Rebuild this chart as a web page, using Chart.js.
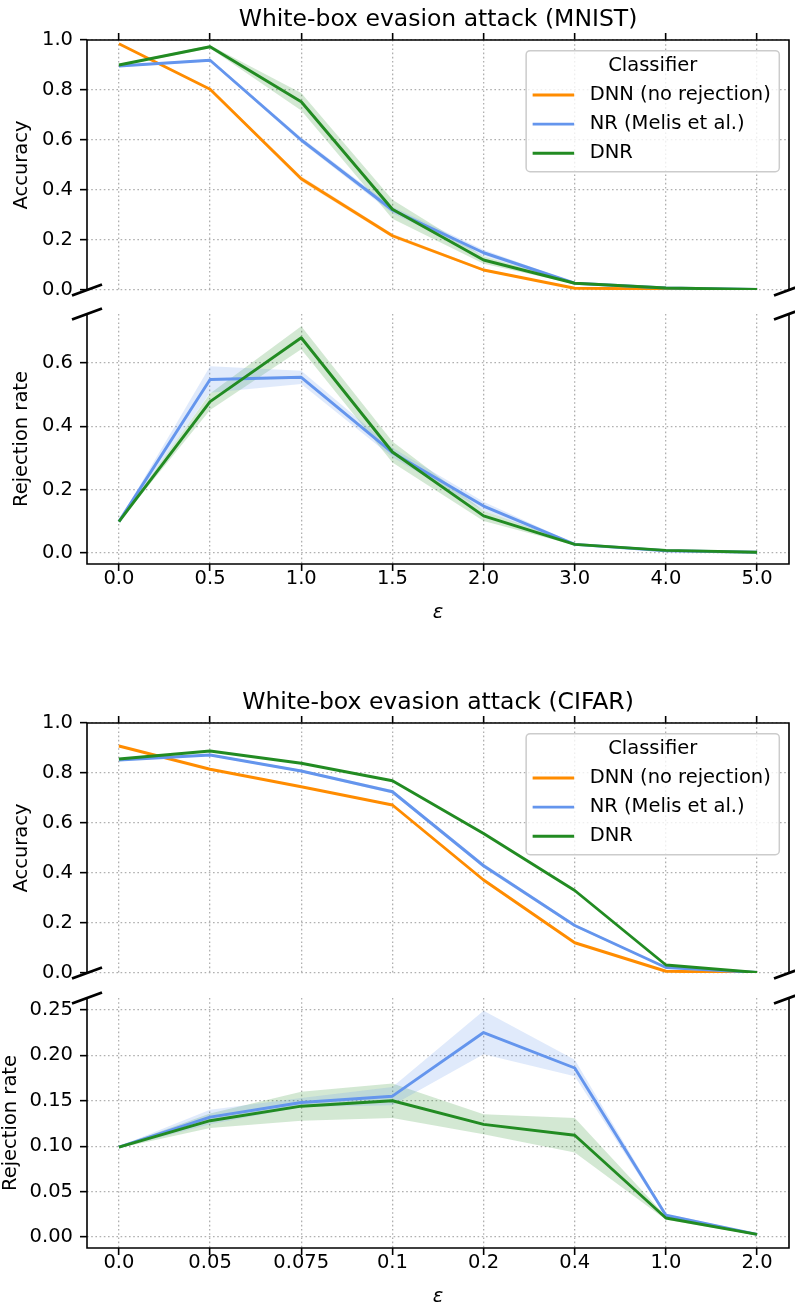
<!DOCTYPE html>
<html>
<head>
<meta charset="utf-8">
<script src="https://cdn.jsdelivr.net/npm/chart.js@4.4.0/dist/chart.umd.min.js"></script>
<style>
  html, body { margin: 0; padding: 0; background: #fff; overflow: hidden; }
  #page { position: relative; width: 795px; height: 1306px; }
  canvas { position: absolute; left: 0; }
</style>
</head>
<body>
<div id="page">
  <canvas id="mnistAcc" style="top:0px" width="795" height="300"></canvas>
  <canvas id="mnistRej" style="top:300px" width="795" height="322"></canvas>
  <canvas id="cifarAcc" style="top:683px" width="795" height="300"></canvas>
  <canvas id="cifarRej" style="top:984px" width="795" height="322"></canvas>
</div>
<script>
// ========== DATA ==========

const classifierNames = ['DNN (no rejection)', 'NR (Melis et al.)', 'DNR'];
const classifierColors = ['#ff8c00', '#6495ed', '#228b22'];

const epsMnist = ['0.0', '0.5', '1.0', '1.5', '2.0', '3.0', '4.0', '5.0'];
const epsCifar = ['0.0', '0.05', '0.075', '0.1', '0.2', '0.4', '1.0', '2.0'];

// MNIST accuracy (mean, std)
const accDnnMnist = [0.985, 0.803, 0.445, 0.217, 0.080, 0.007, 0.004, 0.001];
const accDnnMnistStd = [0.003, 0.004, 0.010, 0.008, 0.005, 0.002, 0.001, 0.000];
const accNrMnist = [0.896, 0.919, 0.600, 0.320, 0.149, 0.027, 0.008, 0.002];
const accNrMnistStd = [0.004, 0.005, 0.010, 0.013, 0.012, 0.003, 0.001, 0.000];
const accDnrMnist = [0.900, 0.973, 0.753, 0.323, 0.120, 0.027, 0.008, 0.002];
const accDnrMnistStd = [0.004, 0.006, 0.035, 0.038, 0.015, 0.003, 0.001, 0.000];

// MNIST rejection rate
const rejNrMnist = [0.099, 0.548, 0.555, 0.317, 0.148, 0.027, 0.007, 0.002];
const rejNrMnistStd = [0.002, 0.042, 0.021, 0.015, 0.014, 0.003, 0.001, 0.000];
const rejDnrMnist = [0.099, 0.478, 0.680, 0.319, 0.117, 0.027, 0.008, 0.002];
const rejDnrMnistStd = [0.002, 0.026, 0.036, 0.033, 0.016, 0.003, 0.001, 0.000];

// CIFAR accuracy
const accDnnCifar = [0.908, 0.815, 0.745, 0.672, 0.372, 0.121, 0.007, 0.001];
const accDnnCifarStd = [0.003, 0.003, 0.003, 0.004, 0.006, 0.004, 0.001, 0.000];
const accNrCifar = [0.852, 0.872, 0.808, 0.725, 0.429, 0.190, 0.022, 0.002];
const accNrCifarStd = [0.003, 0.004, 0.005, 0.007, 0.009, 0.006, 0.002, 0.000];
const accDnrCifar = [0.856, 0.888, 0.839, 0.769, 0.558, 0.330, 0.032, 0.002];
const accDnrCifarStd = [0.002, 0.003, 0.003, 0.003, 0.004, 0.004, 0.002, 0.000];

// CIFAR rejection rate
const rejNrCifar = [0.099, 0.132, 0.148, 0.155, 0.225, 0.186, 0.024, 0.003];
const rejNrCifarStd = [0.001, 0.008, 0.005, 0.010, 0.024, 0.009, 0.002, 0.001];
const rejDnrCifar = [0.099, 0.128, 0.144, 0.150, 0.124, 0.112, 0.021, 0.003];
const rejDnrCifarStd = [0.001, 0.008, 0.016, 0.019, 0.011, 0.019, 0.002, 0.001];

const accTicks = [0, 0.2, 0.4, 0.6, 0.8, 1.0];
const rejTicksMnist = [0, 0.2, 0.4, 0.6];
const rejTicksCifar = [0, 0.05, 0.10, 0.15, 0.20, 0.25];

// ========== STYLE ==========

const FS = 19.5;
Chart.defaults.font.family = "'DejaVu Sans', sans-serif";
Chart.defaults.font.size = FS;
Chart.defaults.color = '#000';

function withAlpha(hex, a) {
  const n = parseInt(hex.slice(1), 16);
  return `rgba(${(n >> 16) & 255}, ${(n >> 8) & 255}, ${n & 255}, ${a})`;
}

const pts = arr => arr.map((v, i) => ({ x: i, y: v }));

function buildDatasets(series) {
  const sets = [];
  series.forEach((s, k) => {
    const lower = s.mean.map((m, i) => m - s.std[i]);
    const upper = s.mean.map((m, i) => m + s.std[i]);
    const lowIdx = sets.length;
    sets.push({
      label: s.name + ' lower', data: pts(lower), borderColor: 'rgba(0,0,0,0)',
      borderWidth: 0, pointRadius: 0, fill: false, order: 20 + k, band: true
    });
    sets.push({
      label: s.name + ' upper', data: pts(upper), borderColor: 'rgba(0,0,0,0)',
      borderWidth: 0, pointRadius: 0, fill: lowIdx, backgroundColor: withAlpha(s.color, 0.2),
      order: 20 + k, band: true
    });
    sets.push({
      label: s.name, data: pts(s.mean), borderColor: s.color, borderWidth: 2.9,
      borderJoinStyle: 'round', pointRadius: 0, fill: false, tension: 0,
      order: 10 - k
    });
  });
  return sets;
}

// spines, broken-axis marks and the framed legend
const axesDecor = {
  id: 'axesDecor',
  afterDraw(chart, args, opts) {
    const { ctx, chartArea: a } = chart;
    ctx.save();
    ctx.strokeStyle = '#000';
    ctx.lineWidth = 1.6;
    ctx.beginPath();
    ctx.moveTo(a.left, a.top); ctx.lineTo(a.left, a.bottom);
    ctx.moveTo(a.right, a.top); ctx.lineTo(a.right, a.bottom);
    if (opts.upper) { ctx.moveTo(a.left - 0.8, a.top); ctx.lineTo(a.right + 0.8, a.top); }
    else { ctx.moveTo(a.left - 0.8, a.bottom); ctx.lineTo(a.right + 0.8, a.bottom); }
    ctx.stroke();

    // break marks
    const yb = opts.upper ? a.bottom : a.top;
    ctx.lineWidth = 2.9;
    ctx.beginPath();
    [a.left, a.right].forEach(x => {
      ctx.moveTo(x - 15, yb + 5.5);
      ctx.lineTo(x + 15, yb - 5.5);
    });
    ctx.stroke();

    if (opts.legend) {
      const mains = chart.data.datasets.filter(d => !d.band);
      ctx.font = `${FS}px 'DejaVu Sans'`;
      const maxW = Math.max(...mains.map(d => ctx.measureText(d.label).width));
      const w = 63.5 + maxW + 8.5, h = 121;
      const fx = a.right - 9.7 - w, fy = a.top + 10.7;
      ctx.beginPath();
      ctx.roundRect(fx, fy, w, h, 4);
      ctx.fillStyle = 'rgba(255,255,255,0.8)';
      ctx.fill();
      ctx.strokeStyle = '#cccccc';
      ctx.lineWidth = 1.5;
      ctx.stroke();

      ctx.fillStyle = '#000';
      ctx.textBaseline = 'middle';
      ctx.textAlign = 'center';
      ctx.fillText(opts.legend, fx + w / 2, fy + 15.3);
      ctx.textAlign = 'left';
      mains.forEach((d, i) => {
        const y = fy + 44.3 + i * 29.1;
        ctx.strokeStyle = d.borderColor;
        ctx.lineWidth = 2.9;
        ctx.beginPath();
        ctx.moveTo(fx + 6.5, y); ctx.lineTo(fx + 48, y);
        ctx.stroke();
        ctx.fillText(d.label, fx + 63.5, y);
      });
    }
    ctx.restore();
  }
};

const gridStyle = {
  color: '#b0b0b0', lineWidth: 1.3, drawTicks: true, tickLength: 7,
  tickColor: '#000', tickWidth: 1.6, tickBorderDash: []
};
const borderStyle = { display: false, dash: [1.6, 2.6] };

function makePanel(id, p) {
  const upper = p.upper;
  const xScale = {
    type: 'linear', min: -0.35, max: p.labels.length - 1 + 0.35,
    position: upper ? 'top' : 'bottom',
    grid: gridStyle, border: borderStyle,
    afterBuildTicks: s => { s.ticks = p.labels.map((_, i) => ({ value: i })); },
    ticks: upper ? { display: false } : {
      padding: -3.5, font: { size: FS, lineHeight: 1.2 },
      callback: v => p.labels[v]
    },
    // the upper panel carries the figure title centred over the axes
    title: upper ? {
      display: true, text: p.title, color: '#000',
      font: { size: 23.5, weight: 'normal', lineHeight: 1 },
      padding: { top: 8.2, bottom: 0 }
    } : {
      display: true, text: 'ε', font: { size: FS, style: 'italic', lineHeight: 1.2 },
      padding: { top: 0, bottom: -5 }
    },
    afterFit: s => { s.height = upper ? 40 : 56; s.paddingLeft = 0; s.paddingRight = 0; }
  };
  const yScale = {
    type: 'linear', min: p.yMin, max: p.yMax,
    grid: gridStyle, border: borderStyle,
    afterBuildTicks: s => { s.ticks = p.yTicks.map(v => ({ value: v })); },
    ticks: { padding: 7, callback: v => v.toFixed(p.yDigits) },
    title: { display: true, text: p.yTitle, font: { size: FS, lineHeight: 1.2 }, padding: { top: p.yTitlePad, bottom: 0 } },
    afterFit: s => { s.width = 87; s.paddingTop = 0; s.paddingBottom = 0; }
  };
  return new Chart(document.getElementById(id), {
    type: 'line',
    data: { datasets: buildDatasets(p.series) },
    options: {
      responsive: false,
      animation: false,
      devicePixelRatio: 1,
      events: [],
      layout: { padding: upper ? { left: 0, right: 6, top: 0, bottom: 10 } : { left: 0, right: 6, top: 14, bottom: 2 } },
      scales: { x: xScale, y: yScale },
      plugins: {
        legend: { display: false },
        tooltip: { enabled: false },
        title: { display: false },
        filler: { drawTime: 'beforeDatasetsDraw' },
        axesDecor: { upper: upper, legend: p.legend || null }
      }
    },
    plugins: [axesDecor]
  });
}

const ser = (k, mean, std) => ({ name: classifierNames[k], color: classifierColors[k], mean, std });

makePanel('mnistAcc', {
  upper: true, title: 'White-box evasion attack (MNIST)', legend: 'Classifier',
  labels: epsMnist, yMin: 0, yMax: 1, yTicks: accTicks, yDigits: 1,
  yTitle: 'Accuracy', yTitlePad: 10.5,
  series: [ser(0, accDnnMnist, accDnnMnistStd), ser(1, accNrMnist, accNrMnistStd), ser(2, accDnrMnist, accDnrMnistStd)]
});
makePanel('mnistRej', {
  upper: false, labels: epsMnist, yMin: -0.035, yMax: 0.755, yTicks: rejTicksMnist, yDigits: 1,
  yTitle: 'Rejection rate', yTitlePad: 10.5,
  series: [ser(1, rejNrMnist, rejNrMnistStd), ser(2, rejDnrMnist, rejDnrMnistStd)]
});
makePanel('cifarAcc', {
  upper: true, title: 'White-box evasion attack (CIFAR)', legend: 'Classifier',
  labels: epsCifar, yMin: 0, yMax: 1, yTicks: accTicks, yDigits: 1,
  yTitle: 'Accuracy', yTitlePad: 10.5,
  series: [ser(0, accDnnCifar, accDnnCifarStd), ser(1, accNrCifar, accNrCifarStd), ser(2, accDnrCifar, accDnrCifarStd)]
});
makePanel('cifarRej', {
  upper: false, labels: epsCifar, yMin: -0.012, yMax: 0.263, yTicks: rejTicksCifar, yDigits: 2,
  yTitle: 'Rejection rate', yTitlePad: -0.5,
  series: [ser(1, rejNrCifar, rejNrCifarStd), ser(2, rejDnrCifar, rejDnrCifarStd)]
});
</script>
</body>
</html>
